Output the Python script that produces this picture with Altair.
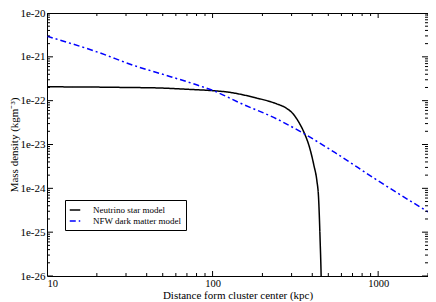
import altair as alt
import pandas as pd

# Neutrino star model
ns_r = [10, 20, 30, 47, 70, 100, 127, 150, 184, 215, 243, 278.5, 306.6, 333, 356.6, 387.3,
        409.2, 426.6, 436.5, 446.3, 452.5, 456]
ns_rho = [2.07e-22, 2.04e-22, 2.0e-22, 1.95e-22, 1.82e-22, 1.69e-22, 1.55e-22, 1.38e-22, 1.15e-22,
          9.9e-23, 8.5e-23, 6.76e-23, 4.98e-23, 3.15e-23, 1.89e-23, 7.96e-24, 3.34e-24, 1.48e-24,
          6.2e-25, 6.3e-26, 1.0e-26, 2.0e-27]

# NFW dark matter model
nfw_r = [10, 20, 35, 50, 80, 100, 150, 243, 358, 550, 960, 2000]
nfw_rho = [2.95e-21, 1.3e-21, 6.0e-22, 4.0e-22, 2.3e-22, 1.72e-22, 8.5e-23, 3.86e-23,
           1.75e-23, 6.5e-24, 1.64e-24, 2.9e-25]

series_names = ["Neutrino star model", "NFW dark matter model"]
series_colors = ["black", "#0000ff"]
series_dash = [[1, 0], [6, 3, 2, 3]]

x_major = [10, 100, 1000]
x_minor = [20, 30, 40, 50, 60, 70, 80, 90, 200, 300, 400, 500, 600, 700, 800, 900, 2000]
y_major = [10.0 ** e for e in range(-26, -19)]
y_minor = [m * 10.0 ** e for e in range(-26, -20) for m in range(2, 10)]

W, H = 381, 263
FONT = "Liberation Serif"

df = pd.concat([
    pd.DataFrame({"r": ns_r, "rho": ns_rho, "model": series_names[0]}),
    pd.DataFrame({"r": nfw_r, "rho": nfw_rho, "model": series_names[1]}),
])

xscale = alt.Scale(type="log", domain=[10, 2000], nice=False)
yscale = alt.Scale(type="log", domain=[1e-26, 1e-20], nice=False)

lines = alt.Chart(df).mark_line(strokeWidth=1.5, clip=True, interpolate="monotone").encode(
    x=alt.X("r:Q", scale=xscale,
            axis=alt.Axis(values=x_major, format="d", title="Distance form cluster center (kpc)",
                          labelPadding=2, labelFontSize=10.5, titleY=13, titleBaseline="top")),
    y=alt.Y("rho:Q", scale=yscale,
            axis=alt.Axis(values=y_major, labelExpr="'1e' + round(log(datum.value)/LN10)",
                          title="Mass density (kgm⁻³)", labelPadding=2,
                          titleX=-33, titleY=H / 2, titleBaseline="middle", titleAngle=270)),
    color=alt.Color("model:N", scale=alt.Scale(domain=series_names, range=series_colors),
                    legend=alt.Legend(title=None, orient="none", legendX=18, legendY=187,
                                      symbolType="stroke", symbolSize=110, symbolStrokeWidth=1.5,
                                      labelFont=FONT, labelFontSize=9, labelOffset=12,
                                      labelColor="black",
                                      strokeColor="black", padding=4, rowPadding=0,
                                      fillColor="white", cornerRadius=0)),
    strokeDash=alt.StrokeDash("model:N", scale=alt.Scale(domain=series_names, range=series_dash)),
    order=alt.Order("r:Q"),
)

xmaj = pd.DataFrame({"v": x_major})
xmin = pd.DataFrame({"v": x_minor})
ymaj = pd.DataFrame({"v": y_major})
ymin = pd.DataFrame({"v": y_minor})

def xticks(data, length):
    b = alt.Chart(data).mark_rule(color="black", strokeWidth=1, clip=True).encode(
        x=alt.X("v:Q", scale=xscale), y=alt.value(H), y2=alt.value(H - length))
    t = alt.Chart(data).mark_rule(color="black", strokeWidth=1, clip=True).encode(
        x=alt.X("v:Q", scale=xscale), y=alt.value(0), y2=alt.value(length))
    return [b, t]

def yticks(data, length):
    l = alt.Chart(data).mark_rule(color="black", strokeWidth=1, clip=True).encode(
        y=alt.Y("v:Q", scale=yscale), x=alt.value(0), x2=alt.value(length))
    r = alt.Chart(data).mark_rule(color="black", strokeWidth=1, clip=True).encode(
        y=alt.Y("v:Q", scale=yscale), x=alt.value(W), x2=alt.value(W - length))
    return [l, r]

layers = [lines] + xticks(xmaj, 5) + xticks(xmin, 3) + yticks(ymaj, 6) + yticks(ymin, 3)

chart = alt.layer(*layers).properties(
    width=W, height=H,
    background="white",
    autosize=alt.AutoSizeParams(type="none"),
    padding={"left": 39, "top": 5, "right": 0, "bottom": 25},
).configure_view(
    stroke="black", strokeWidth=1
).configure_axis(
    grid=False, domain=False, ticks=False,
    labelFont=FONT, labelFontSize=11, labelColor="black",
    titleFont=FONT, titleFontSize=11, titleFontWeight="normal", titleColor="black",
)

chart.save("out.html", embed_options={"renderer": "svg", "actions": False})
